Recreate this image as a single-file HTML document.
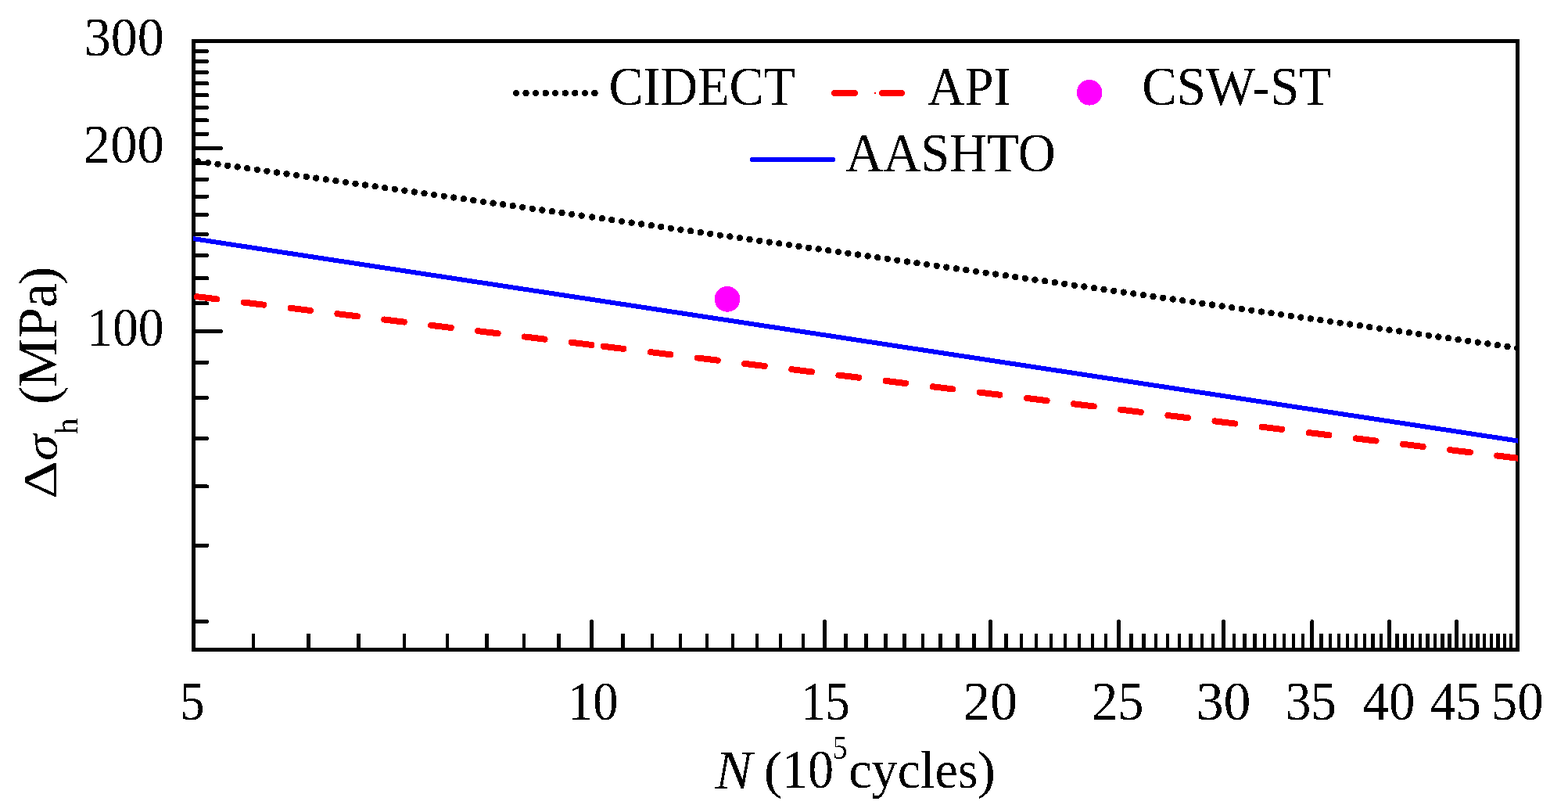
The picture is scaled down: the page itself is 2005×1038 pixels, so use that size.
<!DOCTYPE html><html><head><meta charset="utf-8"><style>html,body{margin:0;padding:0;background:#fff;}svg{display:block}text{font-family:"Liberation Serif","Times New Roman",serif;fill:#000}</style></head><body>
<svg width="2005" height="1038" viewBox="0 0 2005 1038" shape-rendering="crispEdges">
<rect width="2005" height="1038" fill="#fff"/>
<defs><clipPath id="pc"><rect x="247" y="0" width="1693.9" height="1038"/></clipPath><filter id="tc" x="-5%" y="-5%" width="110%" height="110%"><feComponentTransfer><feFuncA type="discrete" tableValues="0 1"/></feComponentTransfer></filter></defs>
<path d="M247.5 423.50H282.6M247.5 189.51H282.6M247.5 794.37H264.6M247.5 697.25H264.6M247.5 621.92H264.6M247.5 560.38H264.6M247.5 508.34H264.6M247.5 463.26H264.6M247.5 387.93H264.6M247.5 355.76H264.6M247.5 326.39H264.6M247.5 299.36H264.6M247.5 274.35H264.6M247.5 251.06H264.6M247.5 229.27H264.6M247.5 208.80H264.6M247.5 171.26H264.6M247.5 153.94H264.6M247.5 137.47H264.6M247.5 121.77H264.6M247.5 106.76H264.6M247.5 92.39H264.6M247.5 78.61H264.6M247.5 65.37H264.6M756.59 830.0V794.6M1054.80 830.0V794.6M1266.39 830.0V794.6M1430.51 830.0V794.6M1564.60 830.0V794.6M1677.97 830.0V794.6M1776.18 830.0V794.6M1862.81 830.0V794.6" stroke="#000" stroke-width="5" fill="none" stroke-linecap="round"/>
<path d="M324.29 830.0V810.0M394.39 830.0V810.0M458.38 830.0V810.0M517.25 830.0V810.0M571.76 830.0V810.0M622.50 830.0V810.0M669.97 830.0V810.0M714.56 830.0V810.0M796.36 830.0V810.0M834.08 830.0V810.0M869.97 830.0V810.0M904.18 830.0V810.0M936.88 830.0V810.0M968.18 830.0V810.0M998.20 830.0V810.0M1027.05 830.0V810.0M1081.55 830.0V810.0M1107.36 830.0V810.0M1132.30 830.0V810.0M1156.41 830.0V810.0M1179.76 830.0V810.0M1202.39 830.0V810.0M1224.35 830.0V810.0M1245.67 830.0V810.0M1286.54 830.0V810.0M1306.15 830.0V810.0M1325.26 830.0V810.0M1343.88 830.0V810.0M1362.04 830.0V810.0M1379.76 830.0V810.0M1397.07 830.0V810.0M1413.98 830.0V810.0M1446.67 830.0V810.0M1462.49 830.0V810.0M1477.97 830.0V810.0M1493.14 830.0V810.0M1508.00 830.0V810.0M1522.56 830.0V810.0M1536.84 830.0V810.0M1550.85 830.0V810.0M1578.09 830.0V810.0M1591.35 830.0V810.0M1604.36 830.0V810.0M1617.16 830.0V810.0M1629.73 830.0V810.0M1642.09 830.0V810.0M1654.25 830.0V810.0M1666.21 830.0V810.0M1689.56 830.0V810.0M1700.96 830.0V810.0M1712.19 830.0V810.0M1723.25 830.0V810.0M1734.14 830.0V810.0M1744.88 830.0V810.0M1755.46 830.0V810.0M1765.90 830.0V810.0M1786.33 830.0V810.0M1796.33 830.0V810.0M1806.21 830.0V810.0M1815.95 830.0V810.0M1825.56 830.0V810.0M1835.05 830.0V810.0M1844.42 830.0V810.0M1853.67 830.0V810.0M1871.83 830.0V810.0M1880.75 830.0V810.0M1889.56 830.0V810.0M1898.26 830.0V810.0M1906.86 830.0V810.0M1915.37 830.0V810.0M1923.77 830.0V810.0M1932.08 830.0V810.0" stroke="#000" stroke-width="4.4" fill="none" stroke-linecap="butt"/>
<path clip-path="url(#pc)" d="M249.17 206.32a4.2 4.2 0 1 0 8.4 0a4.2 4.2 0 1 0 -8.4 0M261.74 208.09a4.2 4.2 0 1 0 8.4 0a4.2 4.2 0 1 0 -8.4 0M274.31 209.87a4.2 4.2 0 1 0 8.4 0a4.2 4.2 0 1 0 -8.4 0M286.88 211.65a4.2 4.2 0 1 0 8.4 0a4.2 4.2 0 1 0 -8.4 0M299.45 213.42a4.2 4.2 0 1 0 8.4 0a4.2 4.2 0 1 0 -8.4 0M312.03 215.20a4.2 4.2 0 1 0 8.4 0a4.2 4.2 0 1 0 -8.4 0M324.60 216.98a4.2 4.2 0 1 0 8.4 0a4.2 4.2 0 1 0 -8.4 0M337.17 218.76a4.2 4.2 0 1 0 8.4 0a4.2 4.2 0 1 0 -8.4 0M349.74 220.53a4.2 4.2 0 1 0 8.4 0a4.2 4.2 0 1 0 -8.4 0M362.31 222.31a4.2 4.2 0 1 0 8.4 0a4.2 4.2 0 1 0 -8.4 0M374.89 224.09a4.2 4.2 0 1 0 8.4 0a4.2 4.2 0 1 0 -8.4 0M387.46 225.87a4.2 4.2 0 1 0 8.4 0a4.2 4.2 0 1 0 -8.4 0M400.03 227.64a4.2 4.2 0 1 0 8.4 0a4.2 4.2 0 1 0 -8.4 0M412.60 229.42a4.2 4.2 0 1 0 8.4 0a4.2 4.2 0 1 0 -8.4 0M425.18 231.20a4.2 4.2 0 1 0 8.4 0a4.2 4.2 0 1 0 -8.4 0M437.75 232.97a4.2 4.2 0 1 0 8.4 0a4.2 4.2 0 1 0 -8.4 0M450.32 234.75a4.2 4.2 0 1 0 8.4 0a4.2 4.2 0 1 0 -8.4 0M462.89 236.53a4.2 4.2 0 1 0 8.4 0a4.2 4.2 0 1 0 -8.4 0M475.46 238.31a4.2 4.2 0 1 0 8.4 0a4.2 4.2 0 1 0 -8.4 0M488.04 240.08a4.2 4.2 0 1 0 8.4 0a4.2 4.2 0 1 0 -8.4 0M500.61 241.86a4.2 4.2 0 1 0 8.4 0a4.2 4.2 0 1 0 -8.4 0M513.18 243.64a4.2 4.2 0 1 0 8.4 0a4.2 4.2 0 1 0 -8.4 0M525.75 245.42a4.2 4.2 0 1 0 8.4 0a4.2 4.2 0 1 0 -8.4 0M538.32 247.19a4.2 4.2 0 1 0 8.4 0a4.2 4.2 0 1 0 -8.4 0M550.89 248.97a4.2 4.2 0 1 0 8.4 0a4.2 4.2 0 1 0 -8.4 0M563.47 250.75a4.2 4.2 0 1 0 8.4 0a4.2 4.2 0 1 0 -8.4 0M576.04 252.52a4.2 4.2 0 1 0 8.4 0a4.2 4.2 0 1 0 -8.4 0M588.61 254.30a4.2 4.2 0 1 0 8.4 0a4.2 4.2 0 1 0 -8.4 0M601.18 256.08a4.2 4.2 0 1 0 8.4 0a4.2 4.2 0 1 0 -8.4 0M613.75 257.86a4.2 4.2 0 1 0 8.4 0a4.2 4.2 0 1 0 -8.4 0M626.33 259.63a4.2 4.2 0 1 0 8.4 0a4.2 4.2 0 1 0 -8.4 0M638.90 261.41a4.2 4.2 0 1 0 8.4 0a4.2 4.2 0 1 0 -8.4 0M651.47 263.19a4.2 4.2 0 1 0 8.4 0a4.2 4.2 0 1 0 -8.4 0M664.04 264.97a4.2 4.2 0 1 0 8.4 0a4.2 4.2 0 1 0 -8.4 0M676.61 266.74a4.2 4.2 0 1 0 8.4 0a4.2 4.2 0 1 0 -8.4 0M689.19 268.52a4.2 4.2 0 1 0 8.4 0a4.2 4.2 0 1 0 -8.4 0M701.76 270.30a4.2 4.2 0 1 0 8.4 0a4.2 4.2 0 1 0 -8.4 0M714.33 272.07a4.2 4.2 0 1 0 8.4 0a4.2 4.2 0 1 0 -8.4 0M726.90 273.85a4.2 4.2 0 1 0 8.4 0a4.2 4.2 0 1 0 -8.4 0M739.47 275.63a4.2 4.2 0 1 0 8.4 0a4.2 4.2 0 1 0 -8.4 0M753.02 277.54a4.2 4.2 0 1 0 8.4 0a4.2 4.2 0 1 0 -8.4 0M765.61 279.32a4.2 4.2 0 1 0 8.4 0a4.2 4.2 0 1 0 -8.4 0M778.19 281.10a4.2 4.2 0 1 0 8.4 0a4.2 4.2 0 1 0 -8.4 0M790.78 282.88a4.2 4.2 0 1 0 8.4 0a4.2 4.2 0 1 0 -8.4 0M803.36 284.66a4.2 4.2 0 1 0 8.4 0a4.2 4.2 0 1 0 -8.4 0M815.94 286.44a4.2 4.2 0 1 0 8.4 0a4.2 4.2 0 1 0 -8.4 0M828.53 288.22a4.2 4.2 0 1 0 8.4 0a4.2 4.2 0 1 0 -8.4 0M841.11 290.00a4.2 4.2 0 1 0 8.4 0a4.2 4.2 0 1 0 -8.4 0M853.69 291.78a4.2 4.2 0 1 0 8.4 0a4.2 4.2 0 1 0 -8.4 0M866.28 293.56a4.2 4.2 0 1 0 8.4 0a4.2 4.2 0 1 0 -8.4 0M878.86 295.33a4.2 4.2 0 1 0 8.4 0a4.2 4.2 0 1 0 -8.4 0M891.45 297.11a4.2 4.2 0 1 0 8.4 0a4.2 4.2 0 1 0 -8.4 0M904.03 298.89a4.2 4.2 0 1 0 8.4 0a4.2 4.2 0 1 0 -8.4 0M916.61 300.67a4.2 4.2 0 1 0 8.4 0a4.2 4.2 0 1 0 -8.4 0M929.20 302.45a4.2 4.2 0 1 0 8.4 0a4.2 4.2 0 1 0 -8.4 0M941.78 304.23a4.2 4.2 0 1 0 8.4 0a4.2 4.2 0 1 0 -8.4 0M954.36 306.01a4.2 4.2 0 1 0 8.4 0a4.2 4.2 0 1 0 -8.4 0M966.95 307.79a4.2 4.2 0 1 0 8.4 0a4.2 4.2 0 1 0 -8.4 0M979.53 309.57a4.2 4.2 0 1 0 8.4 0a4.2 4.2 0 1 0 -8.4 0M992.12 311.34a4.2 4.2 0 1 0 8.4 0a4.2 4.2 0 1 0 -8.4 0M1004.70 313.12a4.2 4.2 0 1 0 8.4 0a4.2 4.2 0 1 0 -8.4 0M1017.28 314.90a4.2 4.2 0 1 0 8.4 0a4.2 4.2 0 1 0 -8.4 0M1029.87 316.68a4.2 4.2 0 1 0 8.4 0a4.2 4.2 0 1 0 -8.4 0M1042.45 318.46a4.2 4.2 0 1 0 8.4 0a4.2 4.2 0 1 0 -8.4 0M1055.04 320.24a4.2 4.2 0 1 0 8.4 0a4.2 4.2 0 1 0 -8.4 0M1067.62 322.02a4.2 4.2 0 1 0 8.4 0a4.2 4.2 0 1 0 -8.4 0M1080.20 323.80a4.2 4.2 0 1 0 8.4 0a4.2 4.2 0 1 0 -8.4 0M1092.79 325.58a4.2 4.2 0 1 0 8.4 0a4.2 4.2 0 1 0 -8.4 0M1105.37 327.36a4.2 4.2 0 1 0 8.4 0a4.2 4.2 0 1 0 -8.4 0M1117.95 329.13a4.2 4.2 0 1 0 8.4 0a4.2 4.2 0 1 0 -8.4 0M1130.54 330.91a4.2 4.2 0 1 0 8.4 0a4.2 4.2 0 1 0 -8.4 0M1143.12 332.69a4.2 4.2 0 1 0 8.4 0a4.2 4.2 0 1 0 -8.4 0M1155.71 334.47a4.2 4.2 0 1 0 8.4 0a4.2 4.2 0 1 0 -8.4 0M1168.29 336.25a4.2 4.2 0 1 0 8.4 0a4.2 4.2 0 1 0 -8.4 0M1180.87 338.03a4.2 4.2 0 1 0 8.4 0a4.2 4.2 0 1 0 -8.4 0M1193.46 339.81a4.2 4.2 0 1 0 8.4 0a4.2 4.2 0 1 0 -8.4 0M1206.04 341.59a4.2 4.2 0 1 0 8.4 0a4.2 4.2 0 1 0 -8.4 0M1218.62 343.37a4.2 4.2 0 1 0 8.4 0a4.2 4.2 0 1 0 -8.4 0M1231.21 345.14a4.2 4.2 0 1 0 8.4 0a4.2 4.2 0 1 0 -8.4 0M1243.79 346.92a4.2 4.2 0 1 0 8.4 0a4.2 4.2 0 1 0 -8.4 0M1256.38 348.70a4.2 4.2 0 1 0 8.4 0a4.2 4.2 0 1 0 -8.4 0M1268.96 350.48a4.2 4.2 0 1 0 8.4 0a4.2 4.2 0 1 0 -8.4 0M1281.54 352.26a4.2 4.2 0 1 0 8.4 0a4.2 4.2 0 1 0 -8.4 0M1294.13 354.04a4.2 4.2 0 1 0 8.4 0a4.2 4.2 0 1 0 -8.4 0M1306.71 355.82a4.2 4.2 0 1 0 8.4 0a4.2 4.2 0 1 0 -8.4 0M1319.29 357.60a4.2 4.2 0 1 0 8.4 0a4.2 4.2 0 1 0 -8.4 0M1331.88 359.38a4.2 4.2 0 1 0 8.4 0a4.2 4.2 0 1 0 -8.4 0M1344.46 361.16a4.2 4.2 0 1 0 8.4 0a4.2 4.2 0 1 0 -8.4 0M1357.05 362.93a4.2 4.2 0 1 0 8.4 0a4.2 4.2 0 1 0 -8.4 0M1369.63 364.71a4.2 4.2 0 1 0 8.4 0a4.2 4.2 0 1 0 -8.4 0M1382.21 366.49a4.2 4.2 0 1 0 8.4 0a4.2 4.2 0 1 0 -8.4 0M1394.80 368.27a4.2 4.2 0 1 0 8.4 0a4.2 4.2 0 1 0 -8.4 0M1407.38 370.05a4.2 4.2 0 1 0 8.4 0a4.2 4.2 0 1 0 -8.4 0M1419.97 371.83a4.2 4.2 0 1 0 8.4 0a4.2 4.2 0 1 0 -8.4 0M1432.55 373.61a4.2 4.2 0 1 0 8.4 0a4.2 4.2 0 1 0 -8.4 0M1445.13 375.39a4.2 4.2 0 1 0 8.4 0a4.2 4.2 0 1 0 -8.4 0M1457.72 377.17a4.2 4.2 0 1 0 8.4 0a4.2 4.2 0 1 0 -8.4 0M1470.30 378.94a4.2 4.2 0 1 0 8.4 0a4.2 4.2 0 1 0 -8.4 0M1482.88 380.72a4.2 4.2 0 1 0 8.4 0a4.2 4.2 0 1 0 -8.4 0M1495.47 382.50a4.2 4.2 0 1 0 8.4 0a4.2 4.2 0 1 0 -8.4 0M1508.05 384.28a4.2 4.2 0 1 0 8.4 0a4.2 4.2 0 1 0 -8.4 0M1520.64 386.06a4.2 4.2 0 1 0 8.4 0a4.2 4.2 0 1 0 -8.4 0M1533.22 387.84a4.2 4.2 0 1 0 8.4 0a4.2 4.2 0 1 0 -8.4 0M1545.80 389.62a4.2 4.2 0 1 0 8.4 0a4.2 4.2 0 1 0 -8.4 0M1558.39 391.40a4.2 4.2 0 1 0 8.4 0a4.2 4.2 0 1 0 -8.4 0M1570.97 393.18a4.2 4.2 0 1 0 8.4 0a4.2 4.2 0 1 0 -8.4 0M1583.55 394.95a4.2 4.2 0 1 0 8.4 0a4.2 4.2 0 1 0 -8.4 0M1596.14 396.73a4.2 4.2 0 1 0 8.4 0a4.2 4.2 0 1 0 -8.4 0M1608.72 398.51a4.2 4.2 0 1 0 8.4 0a4.2 4.2 0 1 0 -8.4 0M1621.31 400.29a4.2 4.2 0 1 0 8.4 0a4.2 4.2 0 1 0 -8.4 0M1633.89 402.07a4.2 4.2 0 1 0 8.4 0a4.2 4.2 0 1 0 -8.4 0M1646.47 403.85a4.2 4.2 0 1 0 8.4 0a4.2 4.2 0 1 0 -8.4 0M1659.06 405.63a4.2 4.2 0 1 0 8.4 0a4.2 4.2 0 1 0 -8.4 0M1671.64 407.41a4.2 4.2 0 1 0 8.4 0a4.2 4.2 0 1 0 -8.4 0M1684.23 409.19a4.2 4.2 0 1 0 8.4 0a4.2 4.2 0 1 0 -8.4 0M1696.81 410.97a4.2 4.2 0 1 0 8.4 0a4.2 4.2 0 1 0 -8.4 0M1709.39 412.74a4.2 4.2 0 1 0 8.4 0a4.2 4.2 0 1 0 -8.4 0M1721.98 414.52a4.2 4.2 0 1 0 8.4 0a4.2 4.2 0 1 0 -8.4 0M1734.56 416.30a4.2 4.2 0 1 0 8.4 0a4.2 4.2 0 1 0 -8.4 0M1747.14 418.08a4.2 4.2 0 1 0 8.4 0a4.2 4.2 0 1 0 -8.4 0M1759.73 419.86a4.2 4.2 0 1 0 8.4 0a4.2 4.2 0 1 0 -8.4 0M1772.31 421.64a4.2 4.2 0 1 0 8.4 0a4.2 4.2 0 1 0 -8.4 0M1784.90 423.42a4.2 4.2 0 1 0 8.4 0a4.2 4.2 0 1 0 -8.4 0M1797.48 425.20a4.2 4.2 0 1 0 8.4 0a4.2 4.2 0 1 0 -8.4 0M1810.06 426.98a4.2 4.2 0 1 0 8.4 0a4.2 4.2 0 1 0 -8.4 0M1822.65 428.75a4.2 4.2 0 1 0 8.4 0a4.2 4.2 0 1 0 -8.4 0M1835.23 430.53a4.2 4.2 0 1 0 8.4 0a4.2 4.2 0 1 0 -8.4 0M1847.81 432.31a4.2 4.2 0 1 0 8.4 0a4.2 4.2 0 1 0 -8.4 0M1860.40 434.09a4.2 4.2 0 1 0 8.4 0a4.2 4.2 0 1 0 -8.4 0M1872.98 435.87a4.2 4.2 0 1 0 8.4 0a4.2 4.2 0 1 0 -8.4 0M1885.57 437.65a4.2 4.2 0 1 0 8.4 0a4.2 4.2 0 1 0 -8.4 0M1898.15 439.43a4.2 4.2 0 1 0 8.4 0a4.2 4.2 0 1 0 -8.4 0M1910.73 441.21a4.2 4.2 0 1 0 8.4 0a4.2 4.2 0 1 0 -8.4 0M1923.32 442.99a4.2 4.2 0 1 0 8.4 0a4.2 4.2 0 1 0 -8.4 0M1935.90 444.77a4.2 4.2 0 1 0 8.4 0a4.2 4.2 0 1 0 -8.4 0" fill="#000"/>
<rect x="247.5" y="52.5" width="1692.80" height="777.50" fill="none" stroke="#000" stroke-width="5"/>
<path clip-path="url(#pc)" d="M240 304.02L1941.2 563.61" stroke="#00f" stroke-width="6" fill="none"/>
<path clip-path="url(#pc)" d="M251.70 379.20L277.30 382.33M311.60 386.53L337.20 389.66M371.50 393.85L397.10 396.98M431.40 401.18L457.00 404.31M491.30 408.50L516.90 411.63M551.20 415.83L576.80 418.96M611.10 423.15L636.70 426.28M671.00 430.48L696.60 433.61M730.90 437.80L756.50 440.93M771.78 442.80L797.38 445.93M831.91 450.15L857.51 453.28M892.05 457.51L917.65 460.64M952.18 464.86L977.78 467.99M1012.31 472.21L1037.91 475.34M1072.44 479.57L1098.04 482.70M1132.58 486.92L1158.18 490.05M1192.71 494.27L1218.31 497.40M1252.84 501.63L1278.44 504.76M1312.98 508.98L1338.58 512.11M1373.11 516.33L1398.71 519.46M1433.24 523.69L1458.84 526.82M1493.38 531.04L1518.98 534.17M1553.51 538.39L1579.11 541.52M1613.64 545.75L1639.24 548.88M1673.78 553.10L1699.38 556.23M1733.91 560.45L1759.51 563.58M1794.04 567.81L1819.64 570.94M1854.17 575.16L1879.77 578.29M1914.31 582.51L1939.91 585.64" stroke="#f00" stroke-width="8" stroke-linecap="round" fill="none"/>
<circle cx="930" cy="382.4" r="16.3" fill="#f0f"/>
<text transform="matrix(0.9727 0.0000 0.0000 0.9989 107.6386 71.2508)" font-size="70" filter="url(#tc)">300</text>
<text transform="matrix(0.9804 0.0000 0.0000 0.9947 106.8589 208.0540)" font-size="70" filter="url(#tc)">200</text>
<text transform="matrix(0.9396 0.0000 0.0000 0.9968 111.0276 442.1524)" font-size="70" filter="url(#tc)">100</text>
<text transform="matrix(0.8956 0.0000 0.0000 0.9871 230.2177 920.0597)" font-size="70" filter="url(#tc)">5</text>
<text transform="matrix(0.9230 0.0000 0.0000 0.9947 726.0316 920.0540)" font-size="70" filter="url(#tc)">10</text>
<text transform="matrix(0.8984 0.0000 0.0000 0.9947 1023.8852 920.0540)" font-size="70" filter="url(#tc)">15</text>
<text transform="matrix(0.9930 0.0000 0.0000 0.9947 1231.6210 920.0540)" font-size="70" filter="url(#tc)">20</text>
<text transform="matrix(0.9494 0.0000 0.0000 0.9947 1395.9518 920.0540)" font-size="70" filter="url(#tc)">25</text>
<text transform="matrix(0.9969 0.0000 0.0000 0.9947 1529.6602 920.0540)" font-size="70" filter="url(#tc)">30</text>
<text transform="matrix(0.9313 0.0000 0.0000 0.9947 1643.7734 920.0540)" font-size="70" filter="url(#tc)">35</text>
<text transform="matrix(0.9561 0.0000 0.0000 0.9947 1742.6049 920.0540)" font-size="70" filter="url(#tc)">40</text>
<text transform="matrix(0.9333 0.0000 0.0000 0.9947 1828.6333 920.0540)" font-size="70" filter="url(#tc)">45</text>
<text transform="matrix(0.9565 0.0000 0.0000 0.9947 1906.8739 920.0540)" font-size="70" filter="url(#tc)">50</text>
<text transform="matrix(0.9431 0.0000 0.0000 1.0000 778.6064 133.9500)" font-size="70" filter="url(#tc)">CIDECT</text>
<text transform="matrix(0.9434 0.0000 0.0000 1.0011 1186.0925 134.1000)" font-size="70" filter="url(#tc)">API</text>
<text transform="matrix(0.9570 0.0000 0.0000 0.9916 1460.1682 134.2084)" font-size="70" filter="url(#tc)">CSW-ST</text>
<text transform="matrix(0.9502 0.0000 0.0000 1.0000 1081.1874 219.2500)" font-size="70" filter="url(#tc)">AASHTO</text>
<text transform="matrix(1.0158 0.0000 0.0000 1.0077 914.5079 1007.8000)" font-size="70" font-style="italic" filter="url(#tc)">N</text>
<text transform="matrix(1.0278 0.0000 0.0000 0.9628 976.7167 1006.5980)" font-size="70" filter="url(#tc)">(</text>
<text transform="matrix(0.9459 0.0000 0.0000 0.9968 999.7881 1007.2524)" font-size="70" filter="url(#tc)">10</text>
<text transform="matrix(0.9075 0.0000 0.0000 1.0107 1064.5313 969.5946)" font-size="42" filter="url(#tc)">5</text>
<text transform="matrix(0.9457 0.0000 0.0000 0.9748 1085.1993 1007.1780)" font-size="70" filter="url(#tc)">cycles</text>
<text transform="matrix(1.0111 0.0000 0.0000 0.9628 1249.5250 1006.5980)" font-size="70" filter="url(#tc)">)</text>
<text transform="matrix(0.0000 -1.0918 0.8670 0.0000 72.0000 637.9025)" font-size="70" filter="url(#tc)">Δ</text>
<text transform="matrix(0.0000 -0.9727 0.8544 0.0000 72.4592 588.8453)" font-size="70" font-style="italic" filter="url(#tc)">σ</text>
<text transform="matrix(0.0000 -0.9950 1.0034 0.0000 99.4000 555.2975)" font-size="42" filter="url(#tc)">h</text>
<text transform="matrix(0.0000 -1.0056 0.9976 0.0000 72.2850 517.0167)" font-size="70" filter="url(#tc)">(</text>
<text transform="matrix(0.0000 -1.0066 1.0129 0.0000 72.1403 495.0132)" font-size="70" filter="url(#tc)">MPa</text>
<text transform="matrix(0.0000 -1.0222 0.9992 0.0000 72.2617 364.5000)" font-size="70" filter="url(#tc)">)</text>
<path d="M655.76 119.0a4.2 4.2 0 1 0 8.4 0a4.2 4.2 0 1 0 -8.4 0M668.32 119.0a4.2 4.2 0 1 0 8.4 0a4.2 4.2 0 1 0 -8.4 0M680.87 119.0a4.2 4.2 0 1 0 8.4 0a4.2 4.2 0 1 0 -8.4 0M693.43 119.0a4.2 4.2 0 1 0 8.4 0a4.2 4.2 0 1 0 -8.4 0M705.98 119.0a4.2 4.2 0 1 0 8.4 0a4.2 4.2 0 1 0 -8.4 0M718.54 119.0a4.2 4.2 0 1 0 8.4 0a4.2 4.2 0 1 0 -8.4 0M731.10 119.0a4.2 4.2 0 1 0 8.4 0a4.2 4.2 0 1 0 -8.4 0M743.65 119.0a4.2 4.2 0 1 0 8.4 0a4.2 4.2 0 1 0 -8.4 0M756.21 119.0a4.2 4.2 0 1 0 8.4 0a4.2 4.2 0 1 0 -8.4 0" fill="#000"/>
<path d="M1066.9 119H1093.0M1127.9 119H1153.1" stroke="#f00" stroke-width="8" stroke-linecap="round" fill="none"/>
<rect x="1118" y="118" width="2" height="2" fill="#f00"/>
<circle cx="1393.2" cy="118.3" r="16.3" fill="#f0f"/>
<path d="M961.9 204.0H1065.0" stroke="#00f" stroke-width="6" stroke-linecap="round" fill="none"/>
</svg></body></html>
